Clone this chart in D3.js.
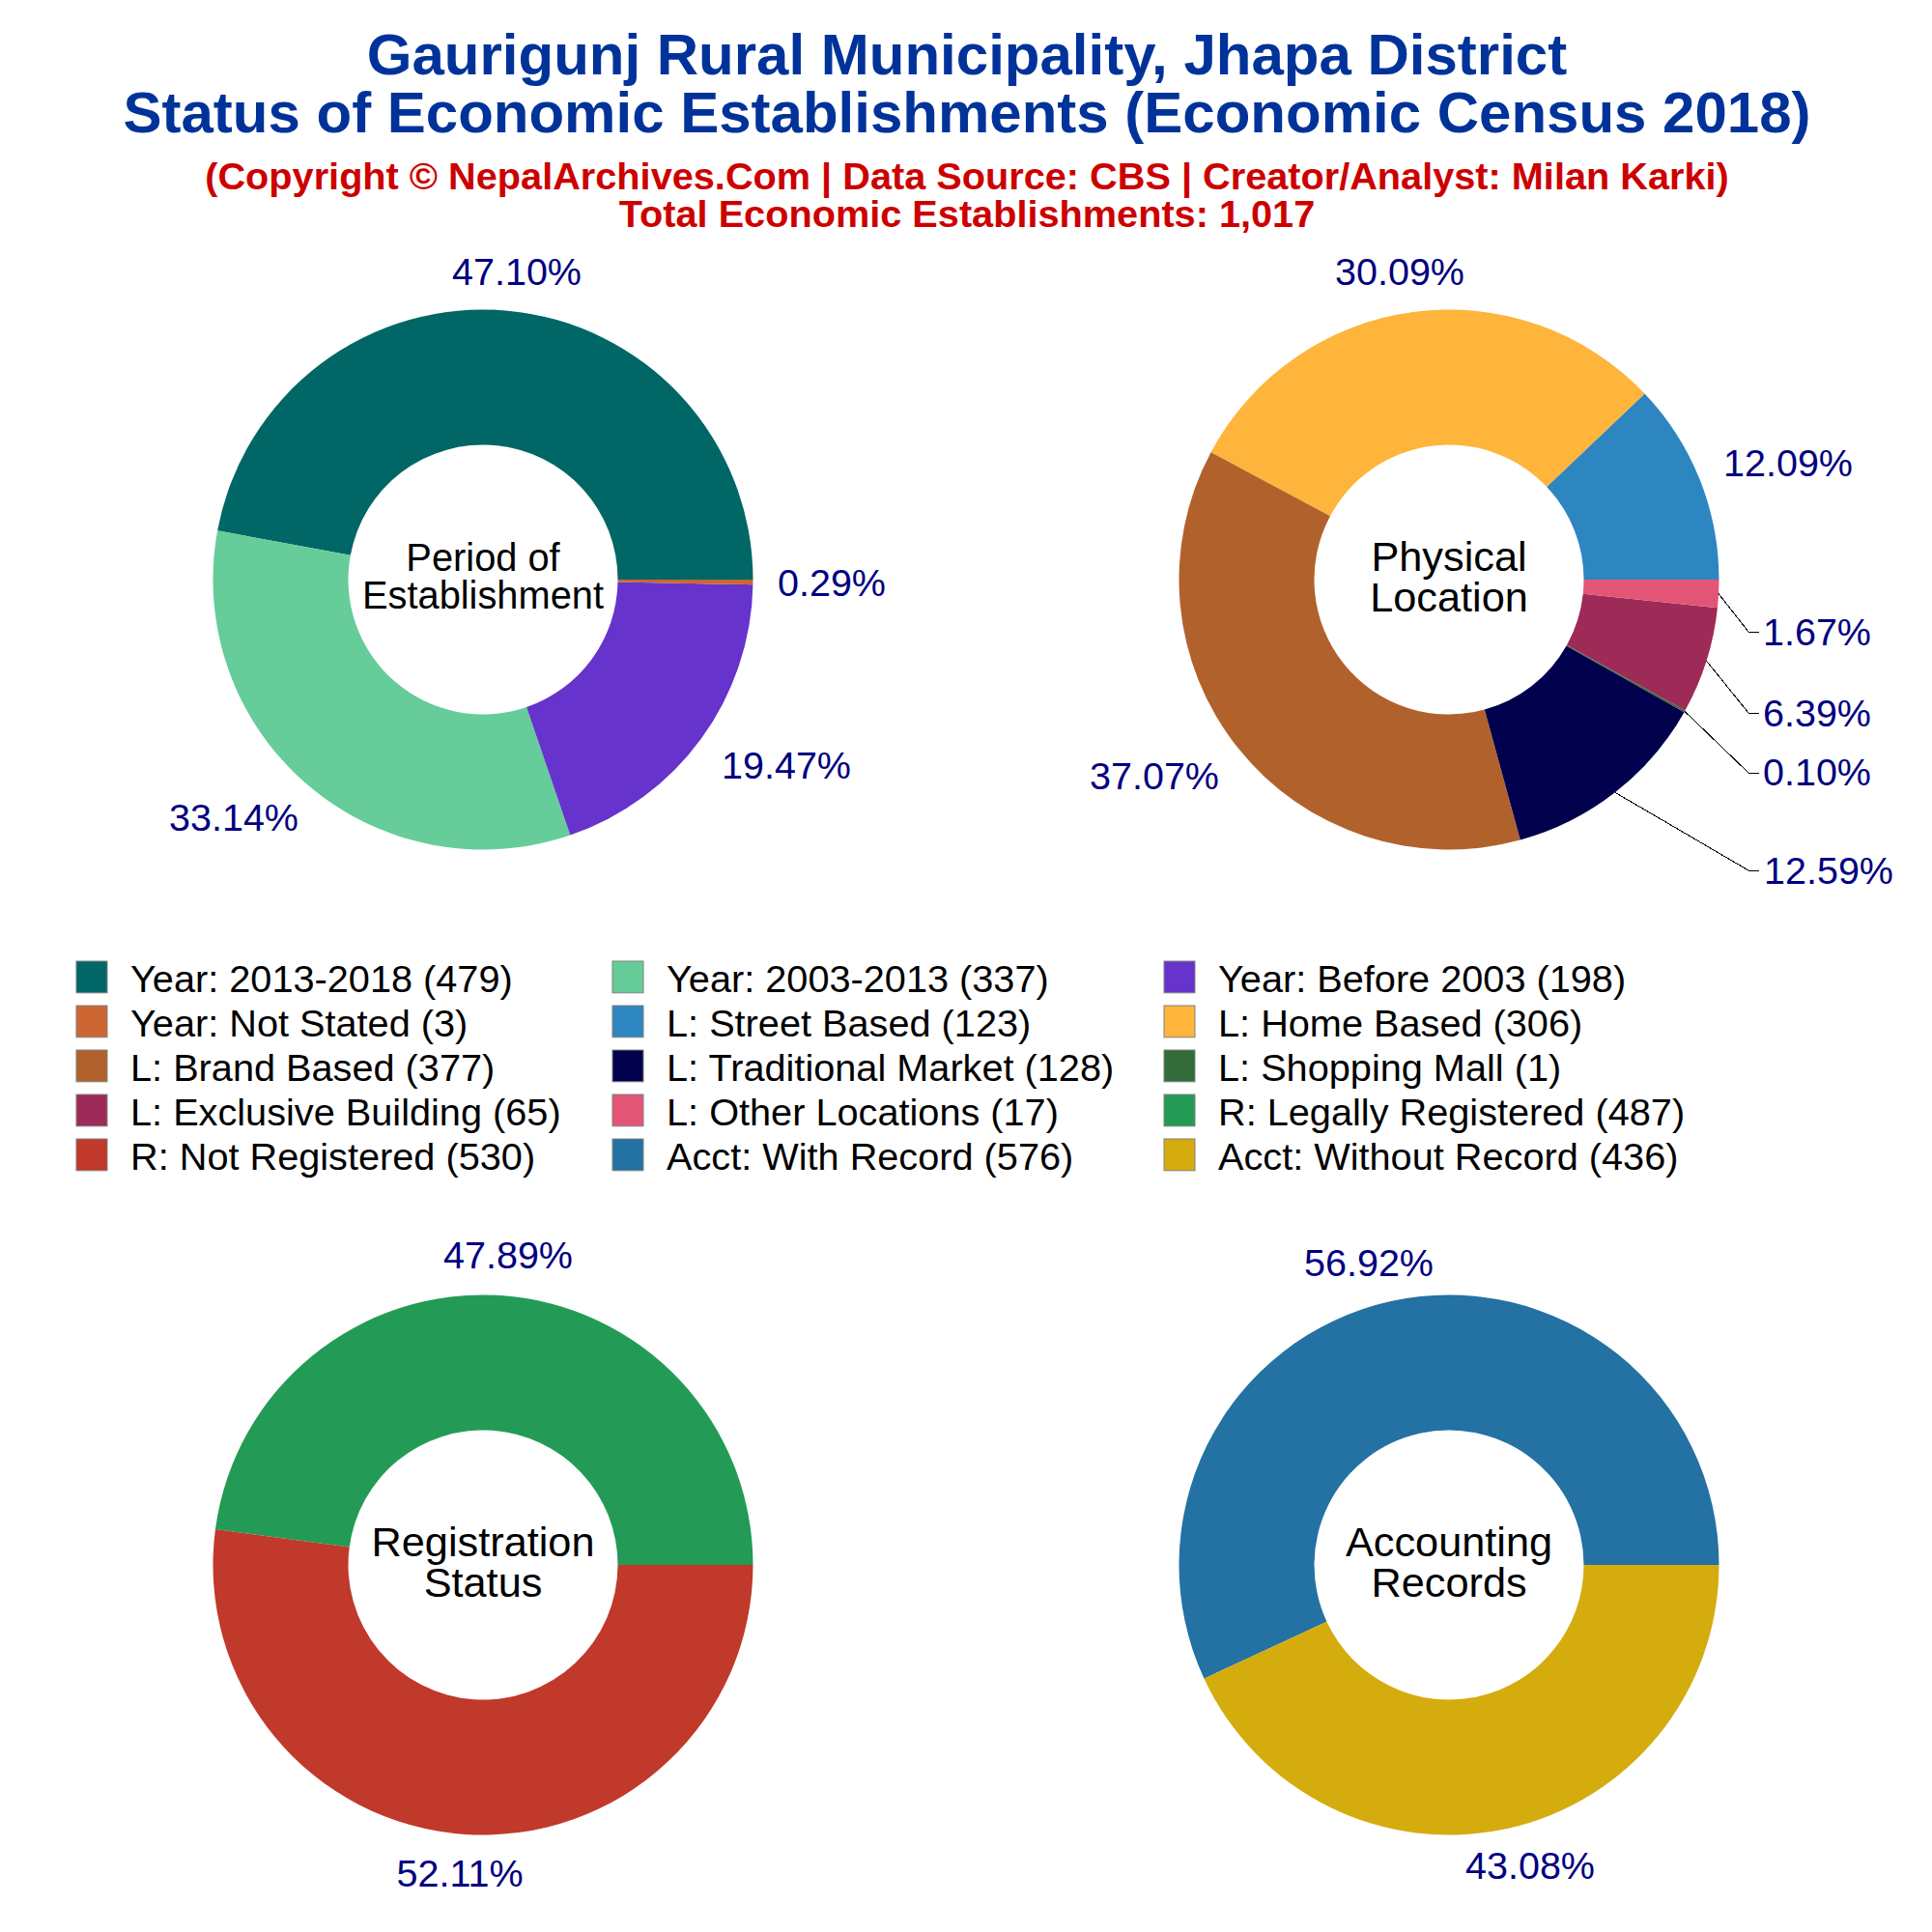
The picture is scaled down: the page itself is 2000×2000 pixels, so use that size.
<!DOCTYPE html>
<html>
<head>
<meta charset="utf-8">
<script src="https://cdn.jsdelivr.net/npm/d3@7"></script>
<style>
  body { margin: 0; background: #fff; }
  text { font-family: "Liberation Sans", Arial, sans-serif; }
</style>
</head>
<body>
<svg id="chart" width="2000" height="2000"></svg>
<script>
const periodNames = ['Year: 2013-2018', 'Year: 2003-2013', 'Year: Before 2003', 'Year: Not Stated'];
const periodValues = [479, 337, 198, 3];
const periodColors = ['#006666', '#66CC99', '#6633CC', '#CC6633'];

const locationNames = ['L: Street Based', 'L: Home Based', 'L: Brand Based', 'L: Traditional Market', 'L: Shopping Mall', 'L: Exclusive Building', 'L: Other Locations'];
const locationValues = [123, 306, 377, 128, 1, 65, 17];
const locationColors = ['#2E86C1', '#FFB43C', '#B1622C', '#00004D', '#336B3A', '#9E2A58', '#E35575'];

const registrationNames = ['R: Legally Registered', 'R: Not Registered'];
const registrationValues = [487, 530];
const registrationColors = ['#239B56', '#C0392B'];

const accountNames = ['Acct: With Record', 'Acct: Without Record'];
const accountValues = [576, 436];
const accountColors = ['#2471A3', '#D4AC0D'];

const outerRadius = 279.5;
const innerRadius = 139.5;

const svg = d3.select('#chart');

// titles
const titles = [
  { text: 'Gaurigunj Rural Municipality, Jhapa District', y: 76.5, size: 60, fill: '#003399' },
  { text: 'Status of Economic Establishments (Economic Census 2018)', y: 136.5, size: 60, fill: '#003399' },
  { text: '(Copyright © NepalArchives.Com | Data Source: CBS | Creator/Analyst: Milan Karki)', y: 196, size: 39.7, fill: '#CC0000' },
  { text: 'Total Economic Establishments: 1,017', y: 235, size: 39.7, fill: '#CC0000' },
];

svg.append('g')
  .selectAll('text')
  .data(titles)
  .enter()
  .append('text')
  .text((d) => d.text)
  .attr('x', 1001)
  .attr('y', (d) => d.y)
  .attr('text-anchor', 'middle')
  .attr('font-size', (d) => d.size)
  .attr('font-weight', 'bold')
  .attr('fill', (d) => d.fill);

// donuts
const pie = d3.pie()
  .sort(null)
  .startAngle(Math.PI / 2)
  .endAngle(Math.PI / 2 - 2 * Math.PI);
const arc = d3.arc().innerRadius(innerRadius).outerRadius(outerRadius);

const drawDonut = (cx, cy, values, colors, centerLines, centerSize, lineGap, labelSpots) => {
  const g = svg.append('g').attr('transform', `translate(${cx}, ${cy})`);
  const slices = pie(values);
  const sum = d3.sum(values);

  g.selectAll('path')
    .data(slices)
    .enter()
    .append('path')
    .attr('d', arc)
    .attr('fill', (d, i) => colors[i]);

  g.selectAll('text.center')
    .data(centerLines)
    .enter()
    .append('text')
    .attr('class', 'center')
    .text((d) => d)
    .attr('x', 0)
    .attr('y', (d, i) => (i - 0.5) * lineGap + centerSize * 0.36 - 4)
    .attr('text-anchor', 'middle')
    .attr('font-size', centerSize)
    .attr('fill', '#000');

  g.selectAll('text.pct')
    .data(slices)
    .enter()
    .append('text')
    .attr('class', 'pct')
    .text((d) => `${(d.value / sum * 100).toFixed(2)}%`)
    .attr('x', (d, i) => labelSpots[i][0])
    .attr('y', (d, i) => labelSpots[i][1] - 1)
    .attr('dy', '0.35em')
    .attr('text-anchor', 'middle')
    .attr('font-size', 39.5)
    .attr('fill', '#000080');

  return { g, slices };
};

drawDonut(500, 600, periodValues, periodColors, ['Period of', 'Establishment'], 39.8, 39,
  [[35, -318], [-258, 247], [314, 193], [361, 4]]);

const locationDonut = drawDonut(1500, 600, locationValues, locationColors, ['Physical', 'Location'], 43.3, 42,
  [[351, -120], [-51, -318], [-305, 204], [393, 302], [381, 200], [381, 139], [381, 55]]);

drawDonut(500, 1620, registrationValues, registrationColors, ['Registration', 'Status'], 43.3, 42,
  [[26, -320], [-24, 320]]);

drawDonut(1500, 1620, accountValues, accountColors, ['Accounting', 'Records'], 43.3, 42,
  [[-83, -312], [84, 312]]);

// leader lines for the small slices of the location donut
const leaderSlices = [3, 4, 5, 6];
const leaderY = [301, 200, 138, 54];
const leader = d3.line();

locationDonut.g.selectAll('path.leader')
  .data(leaderSlices)
  .enter()
  .append('path')
  .attr('class', 'leader')
  .attr('fill', 'none')
  .attr('stroke', '#000')
  .attr('stroke-width', 1)
  .attr('shape-rendering', 'crispEdges')
  .attr('d', (d, i) => {
    const mid = (locationDonut.slices[d].startAngle + locationDonut.slices[d].endAngle) / 2;
    return leader([
      [Math.sin(mid) * outerRadius, -Math.cos(mid) * outerRadius],
      [310, leaderY[i]],
      [321, leaderY[i]],
    ]);
  });

// legend, filled row by row
const legendNames = [...periodNames, ...locationNames, ...registrationNames, ...accountNames];
const legendValues = [...periodValues, ...locationValues, ...registrationValues, ...accountValues];
const legendColors = [...periodColors, ...locationColors, ...registrationColors, ...accountColors];

const columnX = d3.scaleOrdinal().domain([0, 1, 2]).range([79, 634, 1205]);
const rowY = d3.scalePoint().domain([0, 1, 2, 3, 4]).range([1011.4, 1195.4]);

const legend = svg.append('g')
  .selectAll('g')
  .data(legendNames)
  .enter()
  .append('g')
  .attr('transform', (d, i) => `translate(${columnX(i % 3)}, ${rowY(Math.floor(i / 3))})`);

legend.append('rect')
  .attr('x', 0)
  .attr('y', -16.4)
  .attr('width', 32)
  .attr('height', 32.8)
  .attr('fill', (d, i) => legendColors[i])
  .attr('stroke', '#808080')
  .attr('stroke-width', 1);

legend.append('text')
  .text((d, i) => `${d} (${legendValues[i]})`)
  .attr('x', 56)
  .attr('y', 1.5)
  .attr('dy', '0.35em')
  .attr('font-size', 39.7)
  .attr('fill', '#000');
</script>
</body>
</html>
